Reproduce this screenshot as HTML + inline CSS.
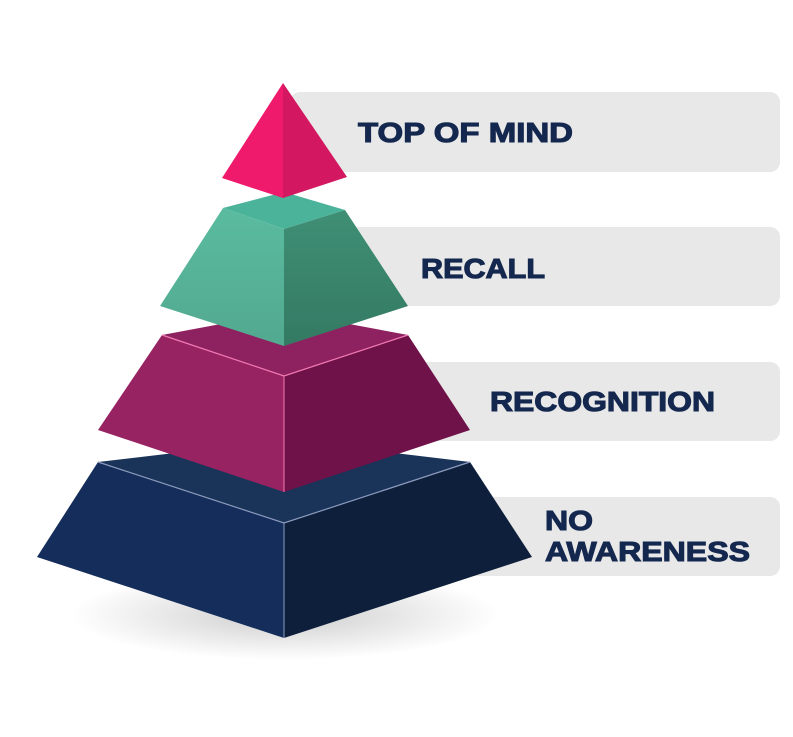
<!DOCTYPE html>
<html><head><meta charset="utf-8"><style>html,body{margin:0;padding:0;background:#fff;width:793px;height:737px;overflow:hidden}</style></head>
<body>
<svg width="793" height="737" viewBox="0 0 793 737" xmlns="http://www.w3.org/2000/svg">
<defs>
<radialGradient id="sh" cx="0.5" cy="0.5" r="0.5">
<stop offset="0" stop-color="#000" stop-opacity="0.2"/>
<stop offset="1" stop-color="#000" stop-opacity="0"/>
</radialGradient>
<linearGradient id="gl" x1="0" y1="0" x2="0" y2="1"><stop offset="0" stop-color="#5abb9f"/><stop offset="1" stop-color="#52a98f"/></linearGradient>
<linearGradient id="gr" x1="0" y1="0" x2="0" y2="1"><stop offset="0" stop-color="#3f8f75"/><stop offset="1" stop-color="#347a63"/></linearGradient>
</defs>
<g fill="#e8e8e8">
<rect x="290" y="92" width="490" height="80" rx="10"/>
<rect x="290" y="227" width="490" height="79" rx="10"/>
<rect x="290" y="362" width="490" height="79" rx="10"/>
<rect x="290" y="497" width="490" height="79" rx="10"/>
</g>
<ellipse cx="285" cy="615" rx="215" ry="45" fill="url(#sh)"/>
<!-- navy -->
<polygon points="98,462 285,440 470,462 284,523" fill="#1a3358"/>
<polygon points="98,462 284,523 284,638 37,557" fill="#142d5a"/>
<polygon points="284,523 470,462 532,557 284,638" fill="#0d1f3b"/>
<polyline points="98,462 284,523 470,462" fill="none" stroke="#8c9bbd" stroke-width="1.2"/>
<line x1="284" y1="523" x2="284" y2="638" stroke="#8c9bbd" stroke-width="1"/>
<!-- magenta -->
<polygon points="162,335 285,312 408,335 284,376" fill="#8e2260"/>
<polygon points="162,335 284,376 284,492 98,430" fill="#982362"/>
<polygon points="284,376 408,335 470,430 284,492" fill="#6f1249"/>
<polyline points="162,335 284,376 408,335" fill="none" stroke="#f27bb3" stroke-width="1.2"/>
<line x1="284" y1="376" x2="284" y2="492" stroke="#f27bb3" stroke-width="1"/>
<!-- green -->
<polygon points="223,208 284,192 345,210 284,229" fill="#4ab39a"/>
<polygon points="223,208 284,229 284,346 160,306" fill="url(#gl)"/>
<polygon points="284,229 345,210 408,306 284,346" fill="url(#gr)"/>
<!-- top -->
<polygon points="283,83 222,178 283,198" fill="#ef1a6c"/>
<polygon points="283,83 347,177 283,198" fill="#d31760"/>
<g font-family="Liberation Sans, sans-serif" font-weight="bold" font-size="28" fill="#14284f" stroke="#14284f" stroke-width="1.1">
<text x="358" y="142" textLength="215" lengthAdjust="spacingAndGlyphs">TOP OF MIND</text>
<text x="421" y="278" textLength="124" lengthAdjust="spacingAndGlyphs">RECALL</text>
<text x="490" y="411" textLength="225" lengthAdjust="spacingAndGlyphs">RECOGNITION</text>
<text x="545" y="530" textLength="48" lengthAdjust="spacingAndGlyphs">NO</text>
<text x="545" y="561" textLength="205" lengthAdjust="spacingAndGlyphs">AWARENESS</text>
</g>
</svg>
</body></html>
